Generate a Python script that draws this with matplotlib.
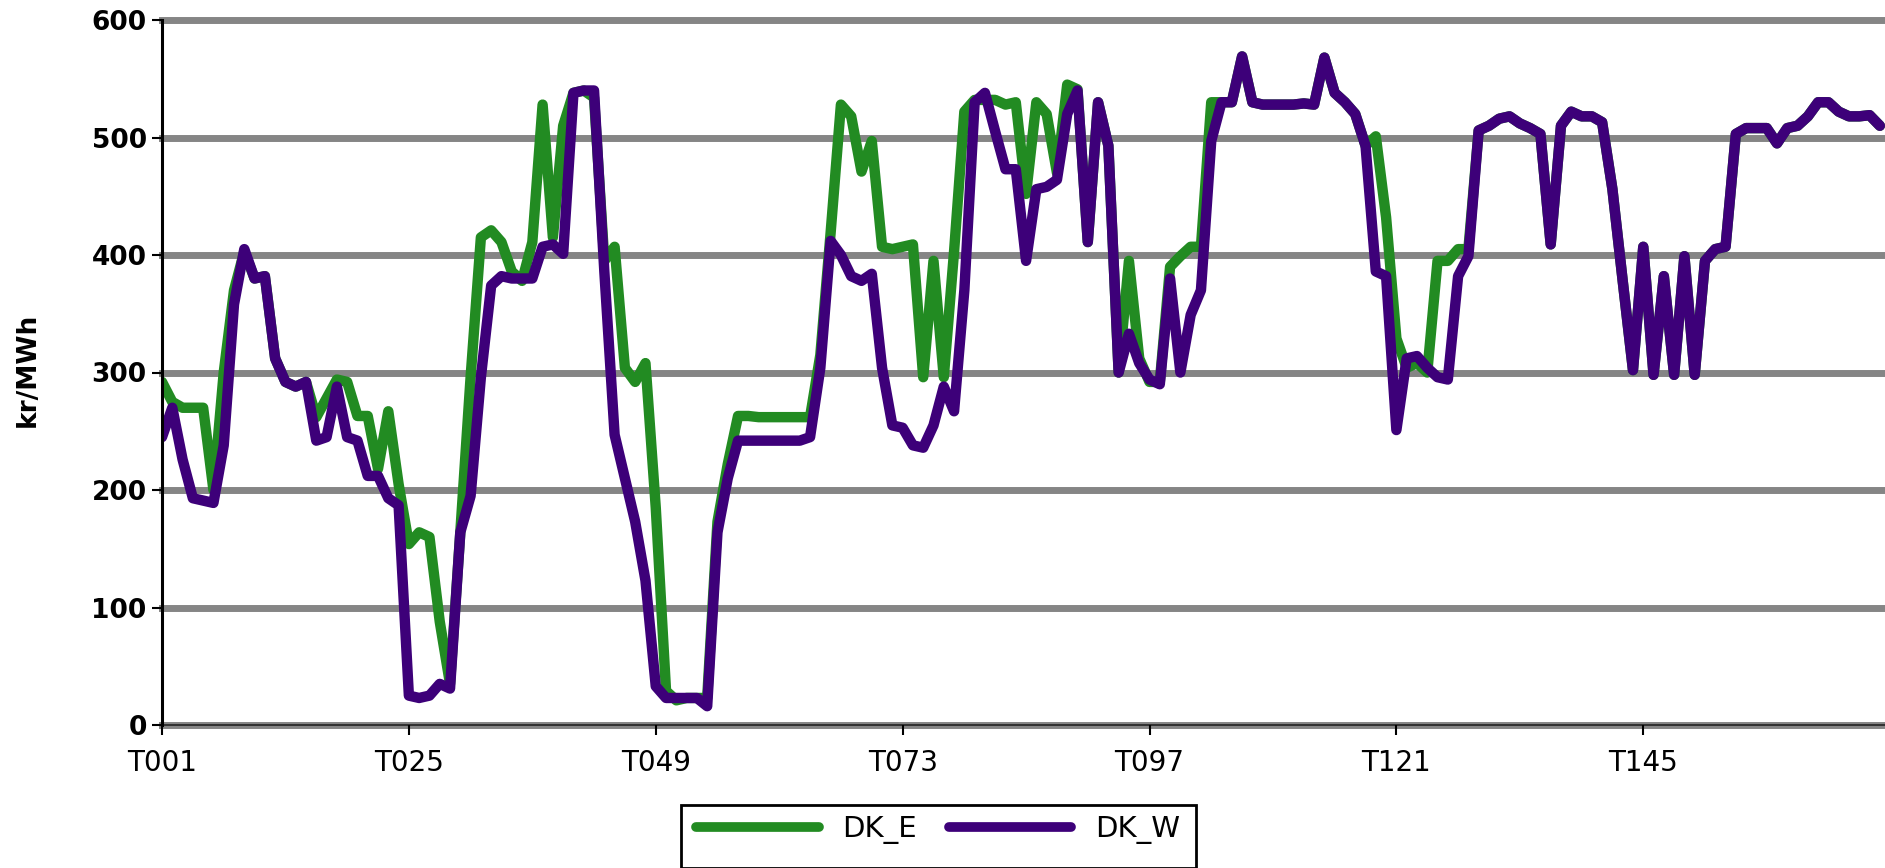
import matplotlib
matplotlib.use("Agg")
import matplotlib.pyplot as plt
import numpy as np
from matplotlib.patches import Rectangle

# hourly categories T001..T168
hours = ["T%03d" % i for i in range(1, 169)]

# DK_E price, kr/MWh
dk_e = [292, 275, 270, 270, 270, 200, 300, 370, 403, 380,
        382, 312, 292, 288, 292, 262, 278, 294, 292, 263,
        263, 218, 267, 205, 154, 164, 160, 88, 35, 164,
        296, 415, 421, 411, 386, 378, 411, 528, 415, 510,
        538, 540, 534, 395, 407, 304, 292, 308, 185, 29,
        21, 23, 23, 23, 173, 222, 263, 263, 262, 262,
        262, 262, 262, 262, 315, 419, 528, 518, 471, 497,
        407, 405, 407, 409, 296, 395, 296, 403, 522, 532,
        532, 532, 528, 530, 452, 530, 520, 470, 545, 541,
        411, 530, 493, 300, 395, 312, 292, 292, 390, 399,
        407, 407, 530, 530, 530, 569, 530, 528, 528, 528,
        528, 529, 528, 568, 538, 530, 520, 493, 501, 432,
        329, 304, 308, 300, 395, 395, 405, 405, 506, 510,
        516, 518, 512, 508, 503, 409, 510, 522, 518, 518,
        513, 456, 378, 302, 407, 298, 382, 298, 399, 298,
        395, 405, 407, 503, 508, 508, 508, 495, 508, 510,
        518, 530, 530, 522, 518, 518, 519, 510]

# DK_W price, kr/MWh
dk_w = [245, 270, 226, 193, 191, 189, 238, 358, 405, 380,
        382, 312, 292, 288, 292, 242, 245, 288, 245, 242,
        212, 212, 193, 187, 25, 23, 25, 35, 31, 164,
        195, 296, 374, 382, 380, 380, 380, 407, 409, 401,
        538, 540, 540, 386, 247, 210, 173, 123, 33, 23,
        23, 23, 23, 16, 164, 210, 242, 242, 242, 242,
        242, 242, 242, 245, 304, 412, 400, 382, 378, 384,
        304, 255, 253, 238, 236, 255, 288, 267, 370, 530,
        538, 505, 473, 473, 395, 456, 458, 464, 520, 540,
        411, 530, 493, 300, 333, 308, 294, 290, 380, 300,
        349, 370, 497, 530, 530, 569, 530, 528, 528, 528,
        528, 529, 528, 568, 538, 530, 520, 493, 386, 382,
        251, 312, 314, 304, 296, 294, 382, 399, 506, 510,
        516, 518, 512, 508, 503, 409, 510, 522, 518, 518,
        513, 456, 378, 302, 407, 298, 382, 298, 399, 298,
        395, 405, 407, 503, 508, 508, 508, 495, 508, 510,
        518, 530, 530, 522, 518, 518, 519, 510]

yticks = [0, 100, 200, 300, 400, 500, 600]
xtick_idx = [0, 24, 48, 72, 96, 120, 144]

W, H = 1885, 868
fig = plt.figure(figsize=(W / 100, H / 100), dpi=100)
ax = fig.add_axes([162 / W, 143 / H, (W - 162) / W, 705 / H])

x = np.arange(1, len(hours) + 1)

# thick gray gridlines (drawn unclipped so the 0 and 600 lines show fully)
for v in yticks:
    ax.axhline(v, color="#858585", lw=5, zorder=0, clip_on=False)

ax.plot(x, dk_e, color="#228B22", lw=7.5, solid_joinstyle="round",
        solid_capstyle="round", label="DK_E", zorder=2)
ax.plot(x, dk_w, color="#3D0079", lw=7.5, solid_joinstyle="round",
        solid_capstyle="round", label="DK_W", zorder=3)

ax.set_xlim(1, 168.5)
ax.set_ylim(0, 600)
ax.set_yticks(yticks)
ax.set_yticklabels([str(v) for v in yticks], fontsize=19, fontweight="bold")
ax.set_xticks([x[i] for i in xtick_idx])
ax.set_xticklabels([hours[i] for i in xtick_idx], fontsize=20)
ax.tick_params(axis="y", direction="out", length=7, width=1.5, pad=4)
ax.tick_params(axis="x", direction="out", length=7, width=1.5, pad=10)

for s in ["top", "right"]:
    ax.spines[s].set_visible(False)
ax.spines["left"].set_linewidth(2.2)
ax.spines["left"].set_zorder(4)
ax.spines["bottom"].set_color("#222222")
ax.spines["bottom"].set_linewidth(1.2)
ax.spines["bottom"].set_zorder(1)

fig.text(28 / W, 1 - 370 / H, "kr/MWh", rotation=90, ha="center",
         va="center", fontsize=19, fontweight="bold")

# legend below the plot; its box runs off the bottom edge
leg = fig.legend(loc="upper center", bbox_to_anchor=(938 / W, 1 - 792 / H),
                 ncol=2, frameon=False, fontsize=21, handlelength=4.2,
                 handletextpad=0.8, columnspacing=1.1, borderpad=0.3)
for ln in leg.get_lines():
    ln.set_linewidth(7)
fig.patches.append(Rectangle((681 / W, 0), (1196 - 681) / W, 1 - 805 / H,
                             transform=fig.transFigure, fill=False,
                             edgecolor="black", lw=2, clip_on=False))

fig.savefig("out.png", dpi=100)
